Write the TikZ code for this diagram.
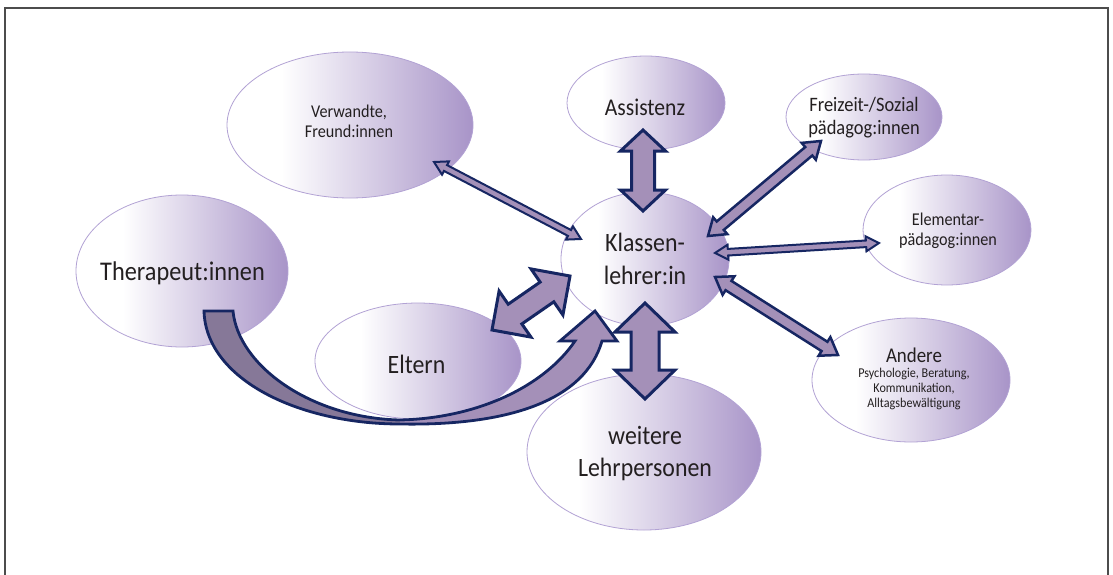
\documentclass[tikz,border=0pt]{standalone}
\usepackage{fontspec}
\setmainfont{Carlito}[FakeStretch=0.9]
\usetikzlibrary{shapes.geometric,calc}
\definecolor{ellR}{RGB}{168,148,200}
\definecolor{ellB}{RGB}{178,162,212}
\definecolor{arrF}{RGB}{164,144,184}
\definecolor{arrD}{RGB}{134,120,152}
\definecolor{navy}{RGB}{22,38,98}
\definecolor{txt}{RGB}{35,31,32}
\pgfdeclarehorizontalshading{ellshade}{100bp}{color(0bp)=(white); color(25bp)=(white); color(36bp)=(white); color(75bp)=(ellR); color(100bp)=(ellR)}
% double arrow between two coordinates: #1,#2 ends, #3 shaft half width, #4 head half width, #5 head length, #6 style
\newcommand\dblarr[6]{%
  \path let \p1=(#1), \p2=(#2) in \pgfextra{%
    \pgfmathsetmacro\tmpang{atan2(\y2-\y1,\x2-\x1)}%
    \pgfmathsetmacro\tmplen{veclen(\x2-\x1,\y2-\y1)}%
    \global\let\DbAng\tmpang \global\let\DbLen\tmplen
    \xdef\DbX{\x1}\xdef\DbY{\y1}};
  \begin{scope}[shift={(\DbX,\DbY)}, rotate=\DbAng]
    \pgfmathsetmacro\Lb{\DbLen-#5}
    \draw[#6] (0,0) -- (#5,#4) -- (#5,#3) -- (\Lb,#3) -- (\Lb,#4) -- (\DbLen,0)
      -- (\Lb,-#4) -- (\Lb,-#3) -- (#5,-#3) -- (#5,-#4) -- cycle;
  \end{scope}}
\begin{document}
\begin{tikzpicture}[x=1pt,y=-1pt,
  ell/.style={ellipse, draw=ellB, line width=0.8pt, shade, shading=ellshade, inner sep=0pt},
  lbl/.style={text=txt, align=center, inner sep=0pt},
  arr/.style={draw=navy, fill=arrF, line join=miter}]
\useasboundingbox (0,0) rectangle (1113,575);
\fill[white] (0,0) rectangle (1113,575);
\draw[line width=1.2pt, gray!60!black] (5,580) -- (5,8) -- (1108,8) -- (1108,580);

% ellipses
\node[ell, minimum width=246pt, minimum height=146pt] (verw) at (350,125) {};
\node[ell, minimum width=158pt, minimum height=94pt] (assist) at (646,103) {};
\node[ell, minimum width=156pt, minimum height=86pt] (frei) at (864,117) {};
\node[ell, minimum width=168pt, minimum height=110pt] (elem) at (947,230) {};
\node[ell, minimum width=198pt, minimum height=124pt] (andere) at (911,380) {};
\node[ell, minimum width=168pt, minimum height=134pt] (klassen) at (645,259) {};
\node[ell, minimum width=212pt, minimum height=152pt] (therap) at (182,271) {};
\node[ell, minimum width=206pt, minimum height=116pt] (eltern) at (418,361) {};
\node[ell, minimum width=234pt, minimum height=156pt] (weitere) at (644,452) {};

% texts
\node[lbl, font=\fontsize{18}{20}\selectfont] (verw-t) at (349,121) {Verwandte,\\Freund:innen};
\node[lbl, font=\fontsize{24}{26}\selectfont] (assist-t) at (645,107) {Assistenz};
\node[lbl, font=\fontsize{20.5}{23}\selectfont] (frei-t) at (864,118) {Freizeit-/Sozial\\pädagog:innen};
\node[lbl, font=\fontsize{18}{20}\selectfont] (elem-t) at (948,230.5) {Elementar-\\pädagog:innen};
\node[lbl, font=\fontsize{13.5}{15}\selectfont] (andere-t) at (914,379) {{\fontsize{21}{15}\selectfont Andere}\\Psychologie, Beratung,\\Kommunikation,\\Alltagsbewältigung};
\node[lbl, font=\fontsize{26.5}{33}\selectfont] (klassen-t) at (645,259) {Klassen-\\lehrer:in};
\node[lbl, font=\fontsize{27}{30}\selectfont] (therap-t) at (182.5,273) {Therapeut:innen};
\node[lbl, font=\fontsize{26.5}{30}\selectfont] (eltern-t) at (416.5,364) {Eltern};
\node[lbl, font=\fontsize{26.5}{32}\selectfont] (weitere-t) at (645,453.5) {weitere\\Lehrpersonen};

% arrow ends
\coordinate (v1) at (434,162); \coordinate (v2) at (581,239);
\coordinate (a1) at (643,130); \coordinate (a2) at (643,211);
\coordinate (f1) at (708,236); \coordinate (f2) at (821,141);
\coordinate (e1) at (715,253); \coordinate (e2) at (879,243);
\coordinate (n1) at (715,277); \coordinate (n2) at (838,355);
\coordinate (p1) at (492,330); \coordinate (p2) at (570,276);
\coordinate (w1) at (645,303); \coordinate (w2) at (645,399);

\dblarr{v1}{v2}{3.3}{7.5}{13}{arr, line width=2pt}
\dblarr{e1}{e2}{3.3}{7.5}{13}{arr, line width=2pt}
\dblarr{f1}{f2}{5.5}{11}{16}{arr, line width=2.5pt}
\dblarr{n1}{n2}{5.5}{11}{16}{arr, line width=2.5pt}
\dblarr{a1}{a2}{11.5}{22.5}{21}{arr, line width=3pt}
\dblarr{p1}{p2}{12}{28}{28}{arr, line width=3pt}
\dblarr{w1}{w2}{14}{30}{29}{arr, line width=3pt}

% curved arrow from Therapeut:innen to Klassenlehrer:in
\coordinate (ctail) at (218,311);
\coordinate (ctip) at (595,311);
\fill[arrD] (233,311) .. controls (238,365) and (310,418) .. (400,420) -- (400,424) .. controls (300,424) and (206,380) .. (204,311) -- cycle;
\fill[arrF] (400,420) .. controls (480,418) and (545,385) .. (575,341) -- (560,341) -- (ctip) -- (617,341) -- (602,341) .. controls (585,400) and (510,426) .. (400,424) -- cycle;
\draw[navy, line width=2.8pt, line join=miter] (204,311) -- (233,311) .. controls (238,365) and (310,418) .. (400,420) .. controls (480,418) and (545,385) .. (575,341) -- (560,341) -- (ctip) -- (617,341) -- (602,341) .. controls (585,400) and (510,426) .. (400,424) .. controls (300,424) and (206,380) .. (204,311) -- cycle;
\end{tikzpicture}
\end{document}
